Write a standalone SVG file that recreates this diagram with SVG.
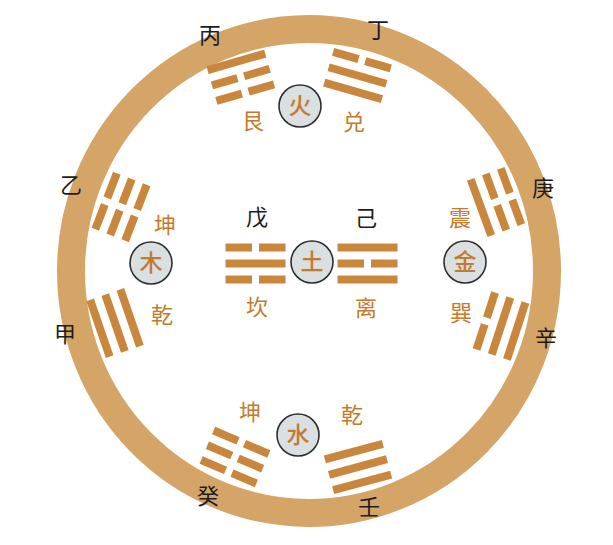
<svg xmlns="http://www.w3.org/2000/svg" xmlns:xlink="http://www.w3.org/1999/xlink" width="613" height="545" viewBox="0 0 613 545">
<style>
.bar{fill:#c8873d}
.lab{font-family:"Noto Sans CJK SC","Noto Sans CJK TC",sans-serif;font-size:22px;text-anchor:middle}
.or{fill:#c47a2c}
.bk{fill:#1c1c1c}
.el{fill:#dadfe2;stroke:#2e2e2e;stroke-width:1.6}
.elt{font-family:"Noto Sans CJK SC",sans-serif;font-size:23px;text-anchor:middle;fill:#c47a2c;font-weight:500}
</style>
<defs>
<g id="yang"><rect class="bar" x="-30" y="-4" width="60" height="8"/></g>
<g id="yin"><rect class="bar" x="-30" y="-4" width="26.5" height="8"/><rect class="bar" x="3.5" y="-4" width="26.5" height="8"/></g>
</defs>
<rect width="613" height="545" fill="#ffffff"/>
<g id="ring">
<ellipse cx="309" cy="271" rx="238" ry="242" fill="none" stroke="#d5a568" stroke-width="28"/>
</g>
<g id="stems">
<text class="lab bk" x="210" y="43">丙</text>
<text class="lab bk" x="378" y="38">丁</text>
<text class="lab bk" x="71" y="193">乙</text>
<text class="lab bk" x="65" y="342">甲</text>
<text class="lab bk" x="543" y="196">庚</text>
<text class="lab bk" x="546" y="346">辛</text>
<text class="lab bk" x="257" y="225">戊</text>
<text class="lab bk" x="366" y="226">己</text>
<text class="lab bk" x="208" y="504">癸</text>
<text class="lab bk" x="369" y="515">壬</text>
</g>
<g id="gen">
<g transform="translate(240.8,77.2) rotate(-16)"><use href="#yang" y="-16"/><use href="#yin"/><use href="#yin" y="16"/></g>
<text class="lab or" x="253" y="129">艮</text>
</g>
<g id="dui">
<g transform="translate(357.5,75.5) rotate(16)"><use href="#yin" y="-16"/><use href="#yang"/><use href="#yang" y="16"/></g>
<text class="lab or" x="354" y="130">兑</text>
</g>
<g id="kun-left">
<g transform="translate(121,207) rotate(-69)"><use href="#yin" y="-16"/><use href="#yin"/><use href="#yin" y="16"/></g>
<text class="lab or" x="165" y="233">坤</text>
</g>
<g id="qian-left">
<g transform="translate(115,323) rotate(71)"><use href="#yang" y="-16"/><use href="#yang"/><use href="#yang" y="16"/></g>
<text class="lab or" x="162" y="323">乾</text>
</g>
<g id="zhen">
<g transform="translate(496,202) rotate(70)"><use href="#yin" y="-16"/><use href="#yin"/><use href="#yang" y="16"/></g>
<text class="lab or" x="460" y="226">震</text>
</g>
<g id="xun">
<g transform="translate(501,326) rotate(-72)"><use href="#yin" y="-16"/><use href="#yang"/><use href="#yang" y="16"/></g>
<text class="lab or" x="461" y="321">巽</text>
</g>
<g id="kan">
<g transform="translate(255.5,263.5)"><use href="#yin" y="-16"/><use href="#yang"/><use href="#yin" y="16"/></g>
<text class="lab or" x="257" y="315">坎</text>
</g>
<g id="li">
<g transform="translate(367.5,263.5)"><use href="#yang" y="-16"/><use href="#yin"/><use href="#yang" y="16"/></g>
<text class="lab or" x="366" y="316">离</text>
</g>
<g id="kun-bottom">
<g transform="translate(235,457) rotate(23)"><use href="#yin" y="-16"/><use href="#yin"/><use href="#yin" y="16"/></g>
<text class="lab or" x="250" y="420">坤</text>
</g>
<g id="qian-bottom">
<g transform="translate(358,467) rotate(-15)"><use href="#yang" y="-16"/><use href="#yang"/><use href="#yang" y="16"/></g>
<text class="lab or" x="352" y="423">乾</text>
</g>
<g id="fire"><circle class="el" cx="300" cy="106" r="21"/><text class="elt" x="300" y="114">火</text></g>
<g id="wood"><circle class="el" cx="151" cy="263" r="21"/><text class="elt" x="151" y="271">木</text></g>
<g id="metal"><circle class="el" cx="465" cy="262" r="21"/><text class="elt" x="465" y="270">金</text></g>
<g id="earth"><circle class="el" cx="312" cy="262" r="21"/><text class="elt" x="312" y="270">土</text></g>
<g id="water"><circle class="el" cx="298" cy="435" r="21"/><text class="elt" x="298" y="443">水</text></g>
</svg>
